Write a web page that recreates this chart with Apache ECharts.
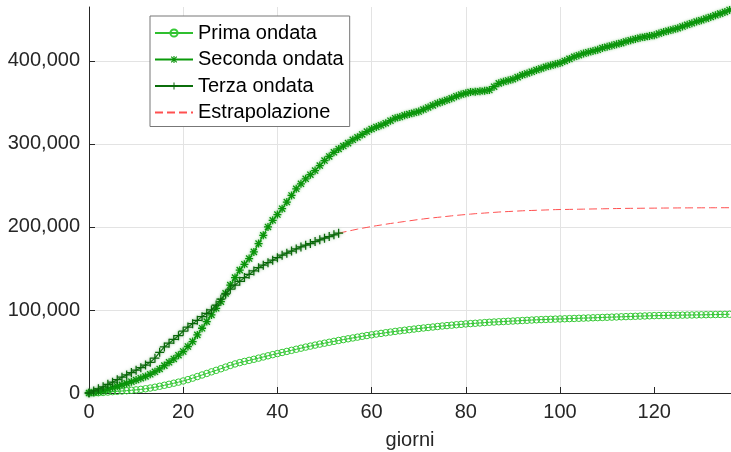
<!DOCTYPE html>
<html>
<head>
<meta charset="utf-8">
<script src="https://cdn.jsdelivr.net/npm/echarts@6/dist/echarts.min.js"></script>
<style>
  html, body { margin: 0; padding: 0; background: #fff; }
  #chart { width: 731px; height: 452px; }
</style>
</head>
<body>
<div id="chart"></div>
<script>
// valori giornalieri (giorno 0 .. 136)
const primaOndata = [
  0, 200, 400, 700, 1100, 1600, 2000, 2400, 2800, 3300,
  3800, 4400, 5100, 6000, 7000, 8100, 9300, 10500, 11800, 13100,
  14500, 16100, 17900, 19800, 21700, 23600, 25500, 27300, 29200, 31200,
  33200, 35000, 36600, 38000, 39300, 40600, 42000, 43400, 44800, 46200,
  47500, 48800, 50100, 51400, 52700, 54000, 55300, 56500, 57700, 58900,
  60000, 61100, 62200, 63300, 64300, 65300, 66300, 67300, 68300, 69200,
  70100, 71000, 71800, 72600, 73400, 74200, 74900, 75600, 76300, 77000,
  77700, 78300, 78900, 79500, 80100, 80700, 81200, 81700, 82200, 82700,
  83200, 83600, 84000, 84400, 84800, 85200, 85500, 85800, 86100, 86400,
  86700, 87000, 87300, 87600, 87900, 88200, 88400, 88600, 88800, 89000,
  89200, 89400, 89600, 89800, 90000, 90200, 90400, 90600, 90800, 91000,
  91200, 91400, 91600, 91800, 92000, 92200, 92400, 92600, 92800, 93000,
  93200, 93300, 93400, 93500, 93600, 93700, 93800, 93900, 94000, 94100,
  94200, 94300, 94400, 94500, 94600, 94700, 94800
];

const secondaOndata = [
  0, 800, 1800, 3000, 4500, 6500, 8000, 9800, 11600, 13600,
  15600, 17800, 20000, 22500, 25500, 29000, 33000, 37000, 41000, 45500,
  50000, 56000, 62000, 70000, 78000, 86000, 94000, 102000, 110000, 120000,
  130000, 139000, 148000, 155000, 162000, 170000, 180000, 190000, 200000, 208000,
  215000, 222000, 230000, 238000, 246000, 252000, 258000, 263000, 268000, 274000,
  280000, 285000, 290000, 294000, 297500, 301000, 305000, 308000, 311500, 315000,
  318000, 320500, 322500, 325000, 328000, 331000, 332500, 334500, 336000, 337500,
  339000, 341500, 344000, 346500, 349000, 351000, 353000, 355000, 357500, 359500,
  361000, 362500, 363000, 363500, 364000, 365000, 369000, 373000, 375000, 376500,
  378000, 380500, 383000, 385000, 387000, 389000, 391000, 393000, 394500, 396000,
  397500, 400000, 402500, 405000, 407000, 409000, 410500, 412000, 413500, 415500,
  417000, 418500, 420000, 421500, 423500, 425000, 426500, 428000, 429000, 430000,
  431000, 433000, 435000, 436500, 438000, 439500, 441500, 443500, 445500, 447500,
  449000, 451000, 453000, 455000, 457000, 459000, 461500
];

// giorno 0 .. 53
const terzaOndata = [
  0, 2500, 5000, 7500, 10500, 13000, 16000, 19000, 21800, 24600,
  27500, 30500, 33700, 37000, 42000, 49000, 55500, 60000, 64500, 69000,
  74500, 79500, 83500, 87500, 92000, 96000, 100000, 106000, 113000, 119000,
  125000, 130000, 134500, 139000, 143000, 147000, 151000, 154000, 157000, 160000,
  163000, 166000, 168500, 171000, 173500, 176000, 178000, 180000, 182500, 184500,
  186500, 188500, 190500, 192500
];

// giorno 53 .. 136
const estrapStart = 53;
const estrapolazione = [
  192500, 193800, 195000, 196200, 197400, 198500, 199500,
  200500, 201500, 202400, 203300, 204200, 205000, 205800, 206600, 207400, 208200,
  209000, 209700, 210400, 211000, 211600, 212200, 212800, 213400, 214000, 214500,
  215000, 215500, 216000, 216400, 216800, 217200, 217600, 218000, 218300, 218600,
  218900, 219200, 219500, 219700, 219900, 220100, 220300, 220500, 220700, 220900,
  221000, 221100, 221200, 221300, 221400, 221500, 221600, 221700, 221800, 221900,
  222000, 222100, 222200, 222300, 222400, 222450, 222500, 222550, 222600, 222650,
  222700, 222750, 222800, 222850, 222900, 222950, 223000, 223000, 223050, 223050,
  223100, 223100, 223150, 223150, 223200, 223200, 223200
];

const xTicks = [0, 20, 40, 60, 80, 100, 120];

const toPairs = (arr, start) => arr.map((v, i) => [start + i, v]);

// simboli in stile MATLAB
const asterisco = "path://M4.2 0H5.8V10H4.2Z M0 4.2H10V5.8H0Z M0.6 1.7L1.7 0.6L9.4 8.3L8.3 9.4Z M8.3 0.6L9.4 1.7L1.7 9.4L0.6 8.3Z";
const piu = "path://M4.3 0H5.7V10H4.3Z M0 4.3H10V5.7H0Z";

const textColor = "#262626";
const font = "Liberation Sans, Arial, Helvetica, sans-serif";

const chart = echarts.init(document.getElementById("chart"));

chart.setOption({
  animation: false,
  textStyle: { fontFamily: font },
  grid: { left: 89, right: 0, top: 7, bottom: 59, outerBoundsMode: "none" },
  legend: {
    orient: "vertical",
    left: 150,
    top: 16,
    padding: [7, 6, 4, 4],
    itemWidth: 38,
    itemHeight: 9,
    itemGap: 6.5,
    borderColor: "#777",
    borderWidth: 1,
    backgroundColor: "#fff",
    textStyle: { fontSize: 20, color: "#000", fontFamily: font },
    data: ["Prima ondata", "Seconda ondata", "Terza ondata", "Estrapolazione"]
  },
  xAxis: {
    type: "value",
    min: 0,
    max: 136.3,
    interval: 20,
    name: "giorni",
    nameLocation: "middle",
    nameGap: 37,
    nameTextStyle: { fontSize: 20, color: textColor, fontFamily: font },
    axisLine: { lineStyle: { color: textColor, width: 1 } },
    axisTick: { inside: true, length: 6, lineStyle: { color: textColor }, customValues: xTicks },
    axisLabel: { fontSize: 20, color: textColor, margin: 9, customValues: xTicks },
    splitLine: { show: true, showMaxLine: false, lineStyle: { color: "#e3e3e3" } }
  },
  yAxis: {
    type: "value",
    min: 0,
    max: 465000,
    interval: 100000,
    axisLine: { show: true, lineStyle: { color: textColor, width: 1 } },
    axisTick: { show: true, inside: true, length: 6, lineStyle: { color: textColor } },
    axisLabel: {
      fontSize: 20, color: textColor, margin: 9, showMaxLabel: false,
      formatter: (v) => v.toLocaleString("en-US")
    },
    splitLine: { show: true, showMaxLine: false, lineStyle: { color: "#e3e3e3" } }
  },
  series: [
    {
      name: "Prima ondata",
      type: "line",
      data: toPairs(primaOndata, 0),
      symbol: "circle",
      symbolSize: 6.5,
      showAllSymbol: true,
      lineStyle: { color: "#2fbf2f", width: 1 },
      itemStyle: { color: "rgba(0,0,0,0)", borderColor: "#36c936", borderWidth: 1 },
      z: 2
    },
    {
      name: "Seconda ondata",
      type: "line",
      data: toPairs(secondaOndata, 0),
      symbol: asterisco,
      symbolSize: 8,
      showAllSymbol: true,
      lineStyle: { color: "#0a9a0a", width: 1.2 },
      itemStyle: { color: "#0a940a", shadowBlur: 3, shadowColor: "rgba(40,170,40,0.6)" },
      z: 3
    },
    {
      name: "Terza ondata",
      type: "line",
      data: toPairs(terzaOndata, 0),
      symbol: piu,
      symbolSize: 9,
      showAllSymbol: true,
      lineStyle: { color: "#0b6e0b", width: 1.2 },
      itemStyle: { color: "#0a660a", shadowBlur: 3, shadowColor: "rgba(40,140,40,0.5)" },
      z: 4
    },
    {
      name: "Estrapolazione",
      type: "line",
      data: toPairs(estrapolazione, estrapStart),
      symbol: "circle",
      showSymbol: false,
      lineStyle: { color: "#ff5050", width: 1, type: [8, 4] },
      itemStyle: { color: "rgba(0,0,0,0)" },
      z: 1
    }
  ]
});
</script>
</body>
</html>
